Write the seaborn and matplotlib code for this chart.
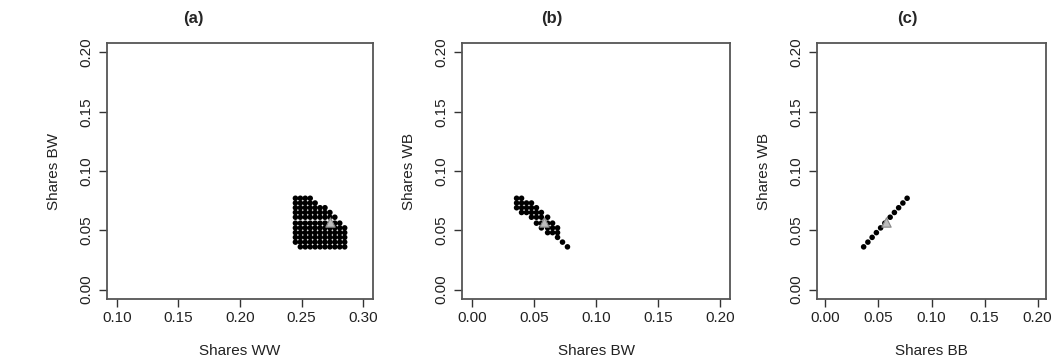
import matplotlib
matplotlib.use("Agg")
import matplotlib.pyplot as plt
import seaborn as sns
import pandas as pd

sns.set_style("ticks")
plt.rcParams['font.family'] = ['Liberation Sans', 'DejaVu Sans']

# grid levels (shares)
levels = [0.036, 0.040, 0.044, 0.048, 0.052, 0.056, 0.061, 0.065, 0.069, 0.073, 0.077]
ww_levels = [0.245, 0.249, 0.253, 0.257, 0.261, 0.265, 0.269, 0.273, 0.277, 0.281, 0.285]

# panel (a): per row of BW, first/last WW column that has a dot
a_row_start = [1, 0, 0, 0, 0, 0, 0, 0, 0, 0, 0]
a_row_end = [10, 10, 10, 10, 10, 9, 8, 7, 6, 4, 3]
# panel (b): per row of WB, first/last BW column that has a dot
b_row_start = [10, 9, 8, 6, 5, 4, 3, 1, 0, 0, 0]
b_row_end = [10, 9, 8, 8, 8, 7, 6, 5, 4, 3, 1]
# panel (c): BB vs WB
c_bb = [0.036, 0.040, 0.044, 0.048, 0.052, 0.056, 0.061, 0.065, 0.069, 0.073, 0.077]
c_wb = [0.036, 0.040, 0.044, 0.048, 0.052, 0.056, 0.061, 0.065, 0.069, 0.073, 0.077]

# reference (triangle) points
tri_a = (0.273, 0.057)
tri_b = (0.058, 0.057)
tri_c = (0.057, 0.057)


def grid_points(xs, ys, starts, ends):
    rows = []
    for j, y in enumerate(ys):
        for i in range(starts[j], ends[j] + 1):
            rows.append((xs[i], y))
    return pd.DataFrame(rows, columns=["x", "y"])


df_a = grid_points(ww_levels, levels, a_row_start, a_row_end)
df_b = grid_points(levels, levels, b_row_start, b_row_end)
df_c = pd.DataFrame({"x": c_bb, "y": c_wb})

panels = [
    ("(a)", df_a, tri_a, "Shares WW", "Shares BW", (0.10, 0.30), [0.10, 0.15, 0.20, 0.25, 0.30], 107, 266, 193),
    ("(b)", df_b, tri_b, "Shares BW", "Shares WB", (0.00, 0.20), [0.00, 0.05, 0.10, 0.15, 0.20], 462, 268, 552),
    ("(c)", df_c, tri_c, "Shares BB", "Shares WB", (0.00, 0.20), [0.00, 0.05, 0.10, 0.15, 0.20], 817, 229, 907),
]

W, H = 1054, 360
fig = plt.figure(figsize=(W / 100, H / 100), dpi=100)
top_px, bot_px = 43, 299

for title, df, tri, xlab, ylab, xr, xt, left_px, width_px, title_px in panels:
    ax = fig.add_axes([left_px / W, (H - bot_px) / H, width_px / W, (bot_px - top_px) / H])
    sns.scatterplot(data=df, x="x", y="y", ax=ax, color="black", s=16,
                    edgecolor="none", legend=False)
    ax.scatter([tri[0]], [tri[1]], marker="^", s=45, facecolor="#bdbdbd",
               edgecolor="#888888", linewidth=0.8, zorder=3)
    pad = (xr[1] - xr[0]) * 0.04
    ax.set_xlim(xr[0] - pad, xr[1] + pad)
    ax.set_ylim(-0.008, 0.208)
    ax.set_xticks(xt)
    ax.set_xticklabels([f"{v:.2f}" for v in xt])
    ax.set_yticks([0.00, 0.05, 0.10, 0.15, 0.20])
    ax.set_yticklabels(["0.00", "0.05", "0.10", "0.15", "0.20"], rotation=90, va="center")
    ax.tick_params(direction="out", length=6, width=1, colors="#333333",
                   labelsize=11, labelcolor="#222222")
    ax.tick_params(axis="y", pad=4)
    ax.tick_params(axis="x", pad=3)
    for s in ax.spines.values():
        s.set_visible(True)
        s.set_color("#555555")
        s.set_linewidth(1.3)
    ax.set_xlabel(xlab, fontsize=11, color="#222222", labelpad=13)
    ax.set_ylabel(ylab, fontsize=11, color="#222222")
    ax.yaxis.set_label_coords(-46 / width_px, 0.5)
    fig.text(title_px / W, 1 - 18 / H, title, fontsize=12, fontweight="bold",
             ha="center", va="center")

fig.savefig("out.png", dpi=100)
